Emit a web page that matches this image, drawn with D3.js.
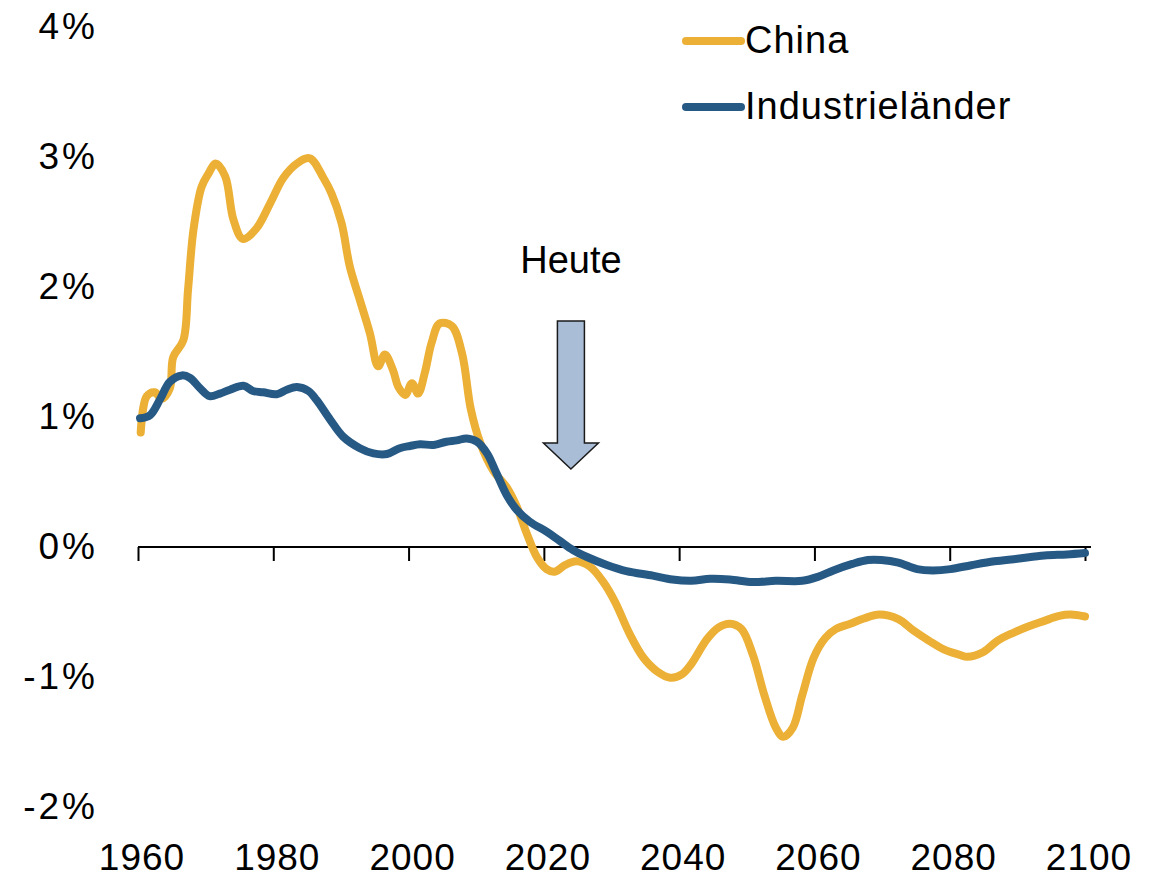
<!DOCTYPE html>
<html>
<head>
<meta charset="utf-8">
<script src="https://cdn.jsdelivr.net/npm/d3@7"></script>
<style>
  body { margin: 0; background: #fff; }
  svg { display: block; font-family: "Liberation Sans", Arial, sans-serif; }
</style>
</head>
<body>
<svg width="1161" height="879"></svg>
<script>
// values (growth in %)
const chinaYears = [1960.4, 1961.3, 1962.5, 1963.5, 1964.7, 1965.2, 1966.7, 1967.4, 1968.2, 1969.4, 1970.4, 1971.5, 1972.9, 1974.1, 1975.5, 1977.5, 1979.5, 1981.5, 1983.5, 1985.4, 1987.4, 1988.6, 1990.1, 1991.3, 1992.8, 1994.3, 1995.5, 1996.5, 1997.7, 1998.5, 1999.5, 2000.5, 2001.4, 2002.4, 2003.4, 2004.6, 2006.4, 2007.9, 2009.2, 2010.6, 2012.5, 2014.5, 2016, 2017.5, 2019, 2020.4, 2021.6, 2023.1, 2024.8, 2026.8, 2028.8, 2030.5, 2032.7, 2034.7, 2036.7, 2038.7, 2040.4, 2041.8, 2044.1, 2045.8, 2047.5, 2049.2, 2050.9, 2052.6, 2054.3, 2055.4, 2056.8, 2058.2, 2059.9, 2061.6, 2063.2, 2065.3, 2067.3, 2069.6, 2072.4, 2074.7, 2076.9, 2079.2, 2081.5, 2082.6, 2084.9, 2087.1, 2089.4, 2091.7, 2093.9, 2096.2, 2097.9, 2100];
const chinaValues = [0.88, 1.16, 1.19, 1.14, 1.22, 1.46, 1.59, 1.98, 2.44, 2.77, 2.87, 2.95, 2.85, 2.52, 2.37, 2.45, 2.64, 2.84, 2.95, 2.99, 2.84, 2.72, 2.49, 2.16, 1.9, 1.64, 1.39, 1.48, 1.36, 1.23, 1.17, 1.26, 1.18, 1.34, 1.57, 1.72, 1.7, 1.49, 1.06, 0.8, 0.59, 0.46, 0.31, 0.1, -0.08, -0.17, -0.19, -0.14, -0.11, -0.15, -0.27, -0.42, -0.67, -0.85, -0.955, -1.005, -0.98, -0.9, -0.71, -0.62, -0.59, -0.63, -0.83, -1.14, -1.39, -1.46, -1.39, -1.14, -0.85, -0.7, -0.63, -0.59, -0.55, -0.52, -0.555, -0.645, -0.72, -0.79, -0.83, -0.845, -0.81, -0.72, -0.66, -0.61, -0.57, -0.53, -0.52, -0.535];

const industryYears = [1960.3, 1961.8, 1963.3, 1964.7, 1966.5, 1967.7, 1969.2, 1970.6, 1972.1, 1973.6, 1975.6, 1977, 1978.5, 1980.5, 1982, 1983.5, 1985.2, 1986.4, 1988.4, 1990.3, 1992.8, 1994.8, 1996.8, 1998.7, 2000.2, 2001.7, 2003.7, 2005.6, 2007.1, 2008.6, 2010.1, 2011.6, 2013, 2014.5, 2016, 2017.9, 2020.4, 2022.3, 2024.3, 2026.3, 2029.3, 2032.2, 2036.1, 2039, 2041.8, 2044.6, 2047.5, 2050.9, 2054.3, 2058.2, 2060.5, 2062.8, 2065.6, 2067.9, 2069.9, 2072.4, 2075.2, 2077.5, 2080.1, 2083.2, 2086.6, 2090, 2094, 2097.3, 2100];
const industryValues = [0.99, 1.015, 1.14, 1.27, 1.32, 1.3, 1.22, 1.16, 1.18, 1.21, 1.24, 1.2, 1.19, 1.175, 1.21, 1.23, 1.2, 1.13, 0.98, 0.85, 0.76, 0.72, 0.715, 0.76, 0.777, 0.79, 0.785, 0.81, 0.82, 0.835, 0.81, 0.72, 0.567, 0.4, 0.285, 0.195, 0.118, 0.049, -0.023, -0.075, -0.138, -0.185, -0.22, -0.25, -0.26, -0.245, -0.25, -0.27, -0.26, -0.26, -0.23, -0.18, -0.13, -0.1, -0.1, -0.12, -0.17, -0.18, -0.17, -0.14, -0.11, -0.09, -0.065, -0.057, -0.046];

const seriesNames = ['China', 'Industrieländer'];
const seriesColors = ['#EBB035', '#275985'];
const xTicks = [1960, 1980, 2000, 2020, 2040, 2060, 2080, 2100];
const yTicks = [4, 3, 2, 1, 0, -1, -2];
const todayYear = 2024;

const svg = d3.select('svg');

const x = d3.scaleLinear().domain([1960, 2100]).range([138, 1085]);
const y = d3.scaleLinear().domain([-2, 4]).range([807, 27]);

// y labels only, no axis line
const yAxis = svg.append('g')
  .attr('transform', 'translate(98,0)')
  .call(d3.axisLeft(y).tickValues(yTicks).tickSize(0).tickPadding(0)
    .tickFormat(d => d + '%'));
yAxis.select('.domain').remove();
yAxis.selectAll('text')
  .attr('font-family', '"Liberation Sans", Arial, sans-serif')
  .attr('font-size', 37)
  .attr('letter-spacing', 3)
  .attr('fill', '#000');

// zero line with ticks
const xAxis = svg.append('g')
  .attr('transform', `translate(0,${y(0)})`)
  .call(d3.axisBottom(x).tickValues(xTicks).tickSize(14).tickSizeOuter(0).tickFormat(''));
xAxis.select('.domain').attr('stroke', '#000').attr('stroke-width', 2)
  .attr('d', `M${x(1960)},0H${x(2100) + 6}`);
xAxis.selectAll('.tick line').attr('stroke', '#000').attr('stroke-width', 2);

// year labels at the bottom
svg.append('g').selectAll('text')
  .data(xTicks)
  .join('text')
  .attr('x', d => x(d) + 4)
  .attr('y', 870)
  .attr('text-anchor', 'middle')
  .attr('font-size', 37)
  .attr('letter-spacing', 1)
  .attr('fill', '#000')
  .text(d => d);

const line = d3.line()
  .x(d => x(d[0]))
  .y(d => y(d[1]))
  .curve(d3.curveCatmullRom.alpha(0.5));

const china = chinaYears.map((yr, i) => [yr, chinaValues[i]]);
const industry = industryYears.map((yr, i) => [yr, industryValues[i]]);

svg.append('path')
  .datum(china)
  .attr('fill', 'none')
  .attr('stroke', seriesColors[0])
  .attr('stroke-width', 8)
  .attr('stroke-linejoin', 'round')
  .attr('stroke-linecap', 'round')
  .attr('d', line);

svg.append('path')
  .datum(industry)
  .attr('fill', 'none')
  .attr('stroke', seriesColors[1])
  .attr('stroke-width', 8)
  .attr('stroke-linejoin', 'round')
  .attr('stroke-linecap', 'round')
  .attr('d', line);

// "Heute" arrow
const ax = x(todayYear);
const arrowPts = [
  [ax - 13.5, 321], [ax + 13.5, 321], [ax + 13.5, 443], [ax + 27.5, 443],
  [ax, 469], [ax - 27.5, 443], [ax - 13.5, 443]
];
svg.append('polygon')
  .attr('points', arrowPts.map(p => p.join(',')).join(' '))
  .attr('fill', '#A9BDD6')
  .attr('stroke', '#1a1a1a')
  .attr('stroke-width', 1.5);

svg.append('text')
  .attr('x', ax)
  .attr('y', 273)
  .attr('text-anchor', 'middle')
  .attr('font-size', 38)
  .attr('fill', '#000')
  .text('Heute');

// legend
const legend = svg.append('g').selectAll('g')
  .data(seriesNames)
  .join('g')
  .attr('transform', (d, i) => `translate(0,${41 + i * 66})`);
legend.append('line')
  .attr('x1', 686).attr('x2', 741)
  .attr('stroke', (d, i) => seriesColors[i])
  .attr('stroke-width', 8)
  .attr('stroke-linecap', 'round');
legend.append('text')
  .attr('x', 745)
  .attr('y', 12)
  .attr('font-size', 38)
  .attr('letter-spacing', 1)
  .attr('fill', '#000')
  .text(d => d);
</script>
</body>
</html>
